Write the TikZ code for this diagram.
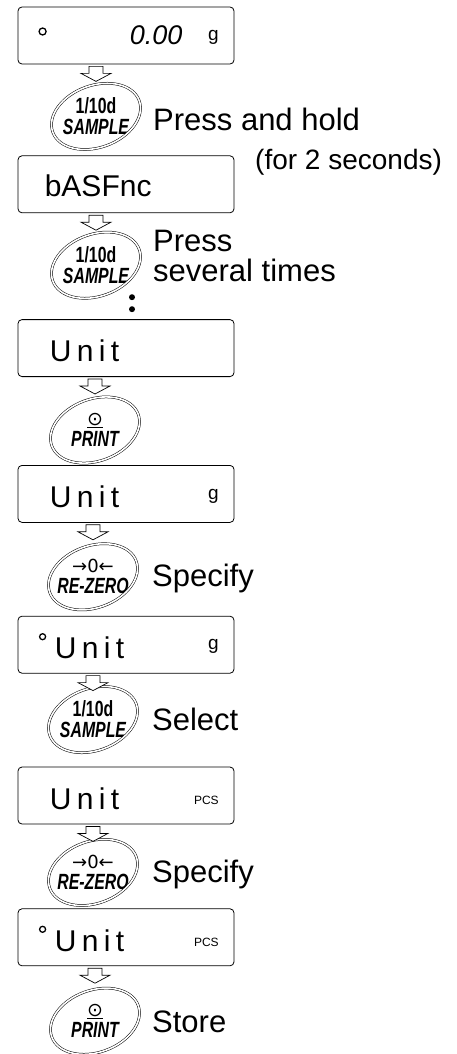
\documentclass[tikz,border=0pt]{standalone}
\usepackage{graphicx}
\usepackage{fontspec}
\setmainfont{Liberation Sans}
\newfontfamily\keyglyph{DejaVu Sans}
\newfontfamily\lcdfont[LetterSpace=18]{Liberation Sans}
\usetikzlibrary{positioning}
\usetikzlibrary{calc}

% key faces
\newcommand{\samplekey}{\scalebox{0.72}[1]{1/10d}\\\scalebox{0.72}[1]{\itshape SAMPLE}}
\newcommand{\printkey}{{\keyglyph\mdseries\fontsize{19}{19}\selectfont\underline{⊙}}\\\scalebox{0.72}[1]{\itshape PRINT}}
\newcommand{\zerokey}{{\keyglyph\mdseries\fontsize{18}{18}\selectfont →0←}\\\scalebox{0.72}[1]{\itshape RE-ZERO}}
% hollow step arrow from a display down to a key
\newcommand{\flowto}[2]{\draw[flow] (#1.south -| #2) ++(-7,2) -- ++(0,7) -- ++(-8,0) -- ++(15,8) -- ++(15,-8) -- ++(-8,0) -- ++(0,-7) -- cycle;}

\begin{document}
\begin{tikzpicture}[x=1pt, y=-1pt,
  disp/.style = {draw, rounded corners=4pt, minimum width=216pt, minimum height=57pt, line width=0.8pt},
  key/.style = {align=center, inner sep=0pt, font=\fontsize{22}{21}\selectfont\bfseries},
  keyrim/.style = {double, double distance=1.6pt, line width=0.5pt},
  flow/.style = {fill=white, line width=0.7pt},
  seg/.style = {anchor=west, inner sep=0pt, font=\fontsize{30}{30}\selectfont},
  spaced/.style = {seg, font=\lcdfont\fontsize{30}{30}\selectfont},
  unit/.style = {inner sep=0pt, font=\fontsize{19}{19}\selectfont},
  pcs/.style = {inner sep=0pt, font=\fontsize{12}{12}\selectfont},
  stab/.style = {draw, circle, line width=1.3pt, minimum size=7pt, inner sep=0pt},
  dot/.style = {fill, circle, minimum size=6pt, inner sep=0pt},
  says/.style = {anchor=base west, inner sep=0pt, font=\fontsize{31}{31}\selectfont}]
\useasboundingbox (0,0) rectangle (457,1054);

% displays and keys
\node[disp] (b1) at (126,35.5) {};
\node[key] (k1) at ($(b1.south)+(-30,52)$) {\samplekey};
\node[disp, below=91pt of b1] (b2) {};
\node[key] (k2) at ($(b2.south)+(-30,52)$) {\samplekey};
\node[dot] (d1) at ($(b2.south)+(6,84)$) {};
\node[dot] (d2) at ($(d1)+(0,12)$) {};
\node[disp, below=106pt of b2] (b3) {};
\node[key] (k3) at ($(b3.south)+(-31,53)$) {\printkey};
\node[disp, below=88pt of b3] (b4) {};
\node[key] (k4) at ($(b4.south)+(-33,54)$) {\zerokey};
\node[disp, below=93pt of b4] (b5) {};
\node[key] (k5) at ($(b5.south)+(-33,46)$) {\samplekey};
\node[disp, below=93pt of b5] (b6) {};
\node[key] (k6) at ($(b6.south)+(-33,48)$) {\zerokey};
\node[disp, below=84pt of b6] (b7) {};
\node[key] (k7) at ($(b7.south)+(-31,55)$) {\printkey};

\foreach \n in {1,...,7} {
  \draw[keyrim, rotate around={20:(k\n)}] (k\n) ellipse (46 and 31);
  \flowto{b\n}{k\n}
}

% what the displays read
\node[stab] (s1) at ($(b1.west)+(25,-4)$) {};
\node[seg, font=\fontsize{27}{27}\selectfont\itshape] (v1) at ($(b1.west)+(112,0)$) {0.00};
\node[unit] (g1) at ($(b1.east)+(-21,2)$) {g};
\node[seg] (v2) at ($(b2.west)+(27,1)$) {bASFnc};
\node[spaced] (v3) at ($(b3.west)+(32,3)$) {Unit};
\node[spaced] (v4) at ($(b4.west)+(32,3)$) {Unit};
\node[unit] (g4) at ($(b4.east)+(-21,2)$) {g};
\node[stab, minimum size=6pt] (s5) at ($(b5.west)+(25,-8)$) {};
\node[spaced] (v5) at ($(b5.west)+(37,3)$) {Unit};
\node[unit] (g5) at ($(b5.east)+(-21,2)$) {g};
\node[spaced] (v6) at ($(b6.west)+(32,3)$) {Unit};
\node[pcs] (p6) at ($(b6.east)+(-28,5)$) {PCS};
\node[stab, minimum size=6pt] (s7) at ($(b7.west)+(25,-8)$) {};
\node[spaced] (v7) at ($(b7.west)+(37,3)$) {Unit};
\node[pcs] (p7) at ($(b7.east)+(-28,5)$) {PCS};

% what to do
\node[says] (t1) at ($(k1)+(57,14)$) {Press and hold};
\node[says, font=\fontsize{28}{28}\selectfont] (t1b) at ($(t1.base west)+(102,39)$) {(for 2 seconds)};
\node[says] (t2) at ($(k2)+(57,-14)$) {Press};
\node[says] (t2b) at ($(t2.base west)+(0,30)$) {several times};
\node[says] (t4) at ($(k4)+(59,10)$) {Specify};
\node[says] (t5) at ($(k5)+(59,11)$) {Select};
\node[says] (t6) at ($(k6)+(59,10)$) {Specify};
\node[says] (t7) at ($(k7)+(57,11)$) {Store};

\end{tikzpicture}
\end{document}
